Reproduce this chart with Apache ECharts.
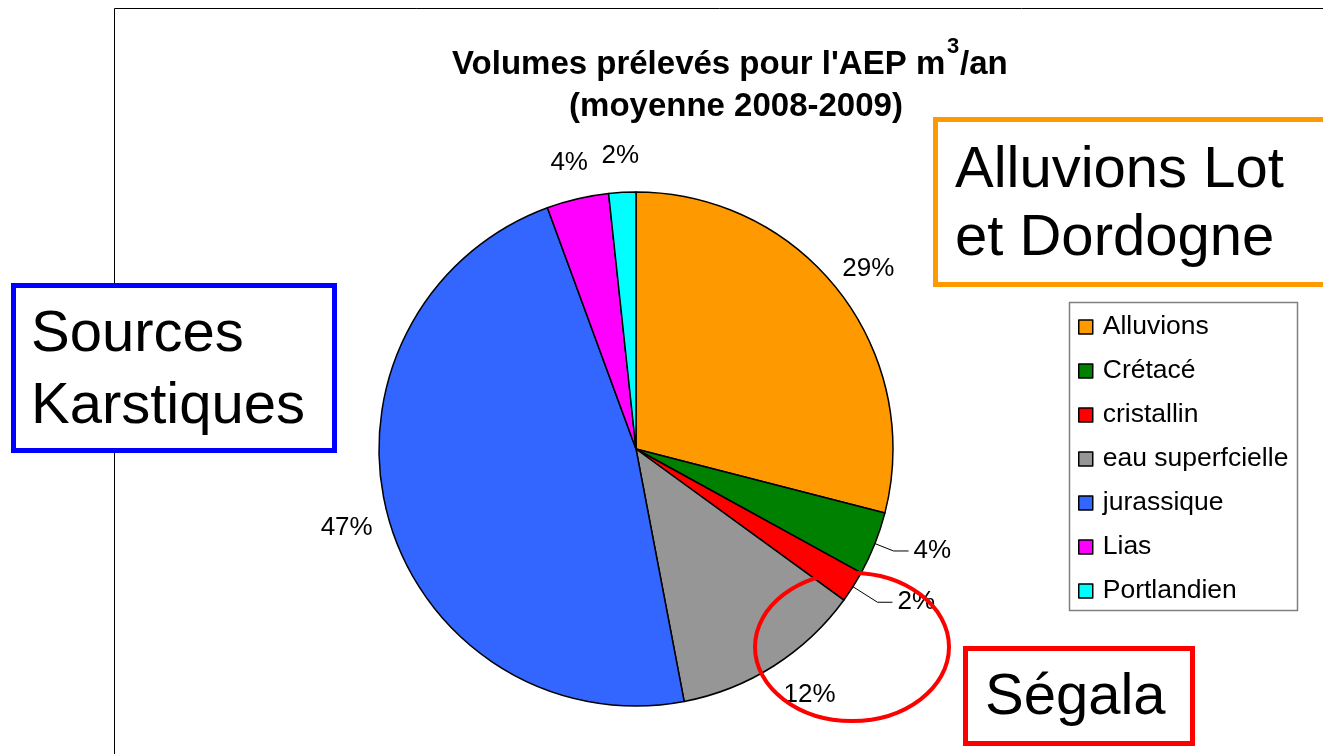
<!DOCTYPE html>
<html lang="fr">
<head>
<meta charset="UTF-8">
<title>Volumes prélevés pour l'AEP</title>
<style>
  * { margin: 0; padding: 0; box-sizing: border-box; }
  html, body { width: 100%; height: 100%; background: #fff; }
  #chart { width: 1323px; height: 754px; }
</style>
</head>
<body>
<div id="chart"></div>
<script src="https://cdn.jsdelivr.net/npm/echarts@6/dist/echarts.min.js"></script>
<script>
  const categories = ['Alluvions', 'Crétacé', 'cristallin', 'eau superfcielle', 'jurassique', 'Lias', 'Portlandien'];
  const shares = [29.0, 4.0, 2.0, 12.0, 47.4, 3.9, 1.7];
  const colors = ['#ff9900', '#008000', '#ff0000', '#969696', '#3366ff', '#ff00ff', '#00ffff'];

  // petites parts à droite : étiquette avec trait de rappel
  const withLine = [false, true, true, false, false, false, false];
  const lineLen = [0, 20, 29, 0, 0, 0, 0];

  const FONT = '"Liberation Sans", Arial, sans-serif';
  const pct = p => Math.round(p.percent) + '%';

  const chart = echarts.init(document.getElementById('chart'));

  function txt(text, x, y, size, align, weight, z) {
    return {
      type: 'text', x: x, y: y, z: z || 20, silent: true,
      style: {
        text: text, fill: '#000',
        fontSize: size, fontFamily: FONT, fontWeight: weight || 'normal',
        align: align, textAlign: align,
        verticalAlign: 'middle', textVerticalAlign: 'middle'
      }
    };
  }

  function box(x, y, w, h, color, lw) {
    return {
      type: 'rect', z: 10, silent: true,
      shape: { x: x, y: y, width: w, height: h },
      style: { fill: '#fff', stroke: color, lineWidth: lw }
    };
  }

  const option = {
    animation: false,
    backgroundColor: '#fff',
    legend: {
      orient: 'vertical',
      left: 1078,
      top: 312,
      padding: 0,
      itemGap: 14,
      itemWidth: 14,
      itemHeight: 14,
      icon: 'rect',
      selectedMode: false,
      data: categories,
      itemStyle: { borderColor: '#000', borderWidth: 1.5 },
      textStyle: { fontSize: 26.5, fontFamily: FONT, color: '#000', lineHeight: 30, padding: [0, 0, 0, 5] }
    },
    graphic: [
      // cadre du graphique
      {
        type: 'rect', z: 0, silent: true,
        shape: { x: 114.5, y: 8.5, width: 1300, height: 800 },
        style: { fill: 'none', stroke: '#000', lineWidth: 1 }
      },
      // cadre de la légende
      {
        type: 'rect', z: 0, silent: true,
        shape: { x: 1069.5, y: 302.5, width: 228, height: 308 },
        style: { fill: '#fff', stroke: '#808080', lineWidth: 1.5 }
      },
      // titre
      txt("Volumes prélevés pour l'AEP m", 452, 65, 33, 'left', 'bold'),
      txt('3', 947, 47, 22, 'left', 'bold'),
      txt('/an', 960, 65, 33, 'left', 'bold'),
      txt('(moyenne 2008-2009)', 736, 107, 33, 'center', 'bold'),
      // encadrés
      box(935.5, 119.5, 500, 165, '#ff9900', 5),
      txt('Alluvions Lot', 955, 171, 58, 'left'),
      txt('et Dordogne', 955, 239, 58, 'left'),
      box(13.5, 285.5, 321, 165, '#0000ff', 5),
      txt('Sources', 31, 335, 58, 'left'),
      txt('Karstiques', 31, 407, 58, 'left'),
      box(965.5, 648.5, 227, 95, '#ff0000', 5),
      txt('Ségala', 985, 698, 58, 'left'),
      // ellipse rouge
      {
        type: 'ellipse', z: 30, silent: true,
        shape: { cx: 852, cy: 647, rx: 97, ry: 74 },
        style: { fill: 'none', stroke: '#ff0000', lineWidth: 4 }
      }
    ],
    series: [
      {
        type: 'pie',
        center: [636, 449],
        radius: 257,
        startAngle: 90,
        clockwise: true,
        avoidLabelOverlap: false,
        silent: true,
        itemStyle: { borderColor: '#000', borderWidth: 1.5 },
        label: {
          position: 'outside', formatter: pct,
          fontSize: 26, fontFamily: FONT, color: '#000'
        },
        labelLine: { lineStyle: { color: '#000', width: 1 } },
        data: categories.map((n, i) => ({
          name: n,
          value: shares[i],
          itemStyle: { color: colors[i] },
          label: { show: withLine[i] },
          labelLine: { show: withLine[i], length: lineLen[i], length2: 15 }
        }))
      },
      {
        // anneau invisible qui porte les étiquettes centrées hors du disque
        type: 'pie',
        center: [636, 449],
        radius: [257, 325],
        startAngle: 90,
        clockwise: true,
        silent: true,
        avoidLabelOverlap: false,
        itemStyle: { color: 'rgba(0,0,0,0)', borderWidth: 0 },
        label: {
          position: 'inside', formatter: pct,
          fontSize: 26, fontFamily: FONT, color: '#000', textBorderWidth: 0
        },
        labelLine: { show: false },
        // l'étiquette 12 % est un peu décalée dans l'original, 47 % un peu plus à gauche
        labelLayout: p => (p.dataIndex === 3 ? { dx: 16, dy: -2 } : p.dataIndex === 4 ? { dx: -6 } : {}),
        data: categories.map((n, i) => ({
          name: n,
          value: shares[i],
          label: { show: !withLine[i] }
        }))
      }
    ]
  };

  chart.setOption(option);
</script>
</body>
</html>
